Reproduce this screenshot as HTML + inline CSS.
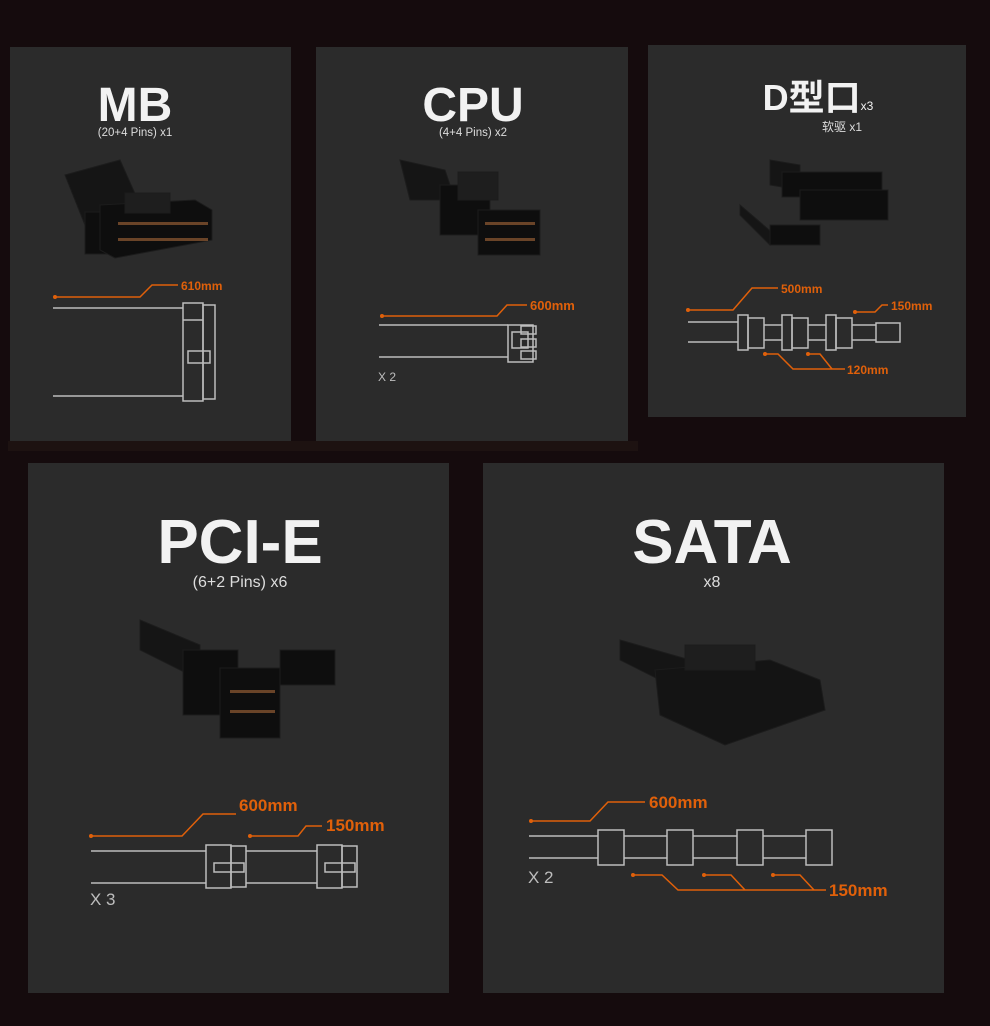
<!DOCTYPE html>
<html><head><meta charset="utf-8"><style>
html,body{margin:0;padding:0;background:#150b0d;}
svg{display:block}
text{font-family:"Liberation Sans","Noto Sans CJK SC",sans-serif}
</style></head><body>
<svg width="990" height="1026" viewBox="0 0 990 1026" xmlns="http://www.w3.org/2000/svg">
<rect width="990" height="1026" fill="#150b0d"/>
<rect x="8" y="441" width="630" height="10" fill="#1d1211"/>
<!-- panels -->
<rect x="10" y="47" width="281" height="394" fill="#2b2b2b"/>
<rect x="316" y="47" width="312" height="394" fill="#2b2b2b"/>
<rect x="648" y="45" width="318" height="372" fill="#2b2b2b"/>
<rect x="28" y="463" width="421" height="530" fill="#2b2b2b"/>
<rect x="483" y="463" width="461" height="530" fill="#2b2b2b"/>

<!-- titles -->
<g fill="#f2f2f2" text-anchor="middle">
<text x="135" y="121" font-size="48" font-weight="bold">MB</text>
<text x="135" y="136" font-size="11.5" fill="#ddd">(20+4 Pins) x1</text>
<text x="473" y="121" font-size="48" font-weight="bold">CPU</text>
<text x="473" y="136" font-size="11.5" fill="#ddd">(4+4 Pins) x2</text>
<text x="818" y="110" font-size="36" font-weight="bold">D型口<tspan font-size="12" font-weight="normal">x3</tspan></text>
<text x="842" y="131" font-size="12" fill="#ddd">软驱 x1</text>
<text x="240" y="563" font-size="62" font-weight="bold">PCI-E</text>
<text x="240" y="587" font-size="16" fill="#ddd">(6+2 Pins) x6</text>
<text x="712" y="563" font-size="62" font-weight="bold">SATA</text>
<text x="712" y="587" font-size="16" fill="#ddd">x8</text>
</g>

<!-- connector images (approximate) -->
<g fill="#0e0e0e" stroke="#1c1c1c">
<path d="M65 175 L120 160 L140 205 L85 225Z" fill="#151515"/>
<rect x="85" y="212" width="30" height="42"/>
<path d="M100 205 L195 200 L212 210 L212 240 L115 258 L100 250Z"/>
<rect x="125" y="193" width="45" height="20" fill="#1e1e1e"/>
<path d="M400 160 L445 170 L455 200 L410 200Z" fill="#151515"/>
<rect x="440" y="185" width="50" height="50"/>
<rect x="458" y="172" width="40" height="28" fill="#1e1e1e"/>
<rect x="478" y="210" width="62" height="45"/>
<path d="M770 160 L800 165 L800 190 L770 185Z" fill="#151515"/>
<rect x="782" y="172" width="100" height="25"/>
<rect x="800" y="190" width="88" height="30"/>
<path d="M740 205 L775 235 L770 245 L740 215Z" fill="#151515"/>
<rect x="770" y="225" width="50" height="20"/>
<path d="M140 620 L200 645 L200 680 L140 650Z" fill="#151515"/>
<rect x="183" y="650" width="55" height="65"/>
<rect x="220" y="668" width="60" height="70"/>
<rect x="280" y="650" width="55" height="35"/>
<path d="M620 640 L690 660 L680 690 L620 660Z" fill="#151515"/>
<path d="M655 670 L770 660 L820 680 L825 710 L725 745 L660 715Z" fill="#141414"/>
<rect x="685" y="645" width="70" height="25" fill="#1e1e1e"/>
</g>
<g fill="#a8693a">
<rect x="118" y="222" width="90" height="3" opacity="0.6"/>
<rect x="118" y="238" width="90" height="3" opacity="0.6"/>
<rect x="485" y="222" width="50" height="3" opacity="0.6"/>
<rect x="485" y="238" width="50" height="3" opacity="0.6"/>
<rect x="230" y="690" width="45" height="3" opacity="0.6"/>
<rect x="230" y="710" width="45" height="3" opacity="0.6"/>
</g>

<!-- line drawings -->
<g fill="none" stroke="#bdbdbd" stroke-width="1.5">
<line x1="53" y1="308" x2="183" y2="308"/>
<line x1="53" y1="396" x2="183" y2="396"/>
<rect x="183" y="303" width="20" height="98"/>
<line x1="183" y1="320" x2="203" y2="320"/>
<rect x="203" y="305" width="12" height="94"/>
<rect x="188" y="351" width="22" height="12"/>
<line x1="379" y1="325" x2="508" y2="325"/>
<line x1="379" y1="357" x2="508" y2="357"/>
<rect x="508" y="325" width="25" height="37"/>
<rect x="521" y="326" width="15" height="8"/>
<rect x="521" y="339" width="15" height="8"/>
<rect x="521" y="351" width="15" height="8"/>
<rect x="512" y="332" width="16" height="16"/>
<line x1="688" y1="322" x2="738" y2="322"/>
<line x1="688" y1="342" x2="738" y2="342"/>
<rect x="738" y="315" width="10" height="35"/>
<rect x="748" y="318" width="16" height="30"/>
<line x1="764" y1="325" x2="782" y2="325"/>
<line x1="764" y1="340" x2="782" y2="340"/>
<rect x="782" y="315" width="10" height="35"/>
<rect x="792" y="318" width="16" height="30"/>
<line x1="808" y1="325" x2="826" y2="325"/>
<line x1="808" y1="340" x2="826" y2="340"/>
<rect x="826" y="315" width="10" height="35"/>
<rect x="836" y="318" width="16" height="30"/>
<line x1="852" y1="325" x2="876" y2="325"/>
<line x1="852" y1="340" x2="876" y2="340"/>
<rect x="876" y="323" width="24" height="19"/>
<line x1="91" y1="851" x2="206" y2="851"/>
<line x1="91" y1="883" x2="206" y2="883"/>
<rect x="206" y="845" width="25" height="43"/>
<rect x="231" y="846" width="15" height="41"/>
<rect x="214" y="863" width="30" height="9"/>
<line x1="246" y1="851" x2="317" y2="851"/>
<line x1="246" y1="883" x2="317" y2="883"/>
<rect x="317" y="845" width="25" height="43"/>
<rect x="342" y="846" width="15" height="41"/>
<rect x="325" y="863" width="30" height="9"/>
<line x1="529" y1="836" x2="598" y2="836"/>
<line x1="529" y1="858" x2="598" y2="858"/>
<rect x="598" y="830" width="26" height="35"/>
<line x1="624" y1="836" x2="667" y2="836"/><line x1="624" y1="858" x2="667" y2="858"/>
<rect x="667" y="830" width="26" height="35"/>
<line x1="693" y1="836" x2="737" y2="836"/><line x1="693" y1="858" x2="737" y2="858"/>
<rect x="737" y="830" width="26" height="35"/>
<line x1="763" y1="836" x2="806" y2="836"/><line x1="763" y1="858" x2="806" y2="858"/>
<rect x="806" y="830" width="26" height="35"/>
</g>

<!-- orange dims -->
<g fill="none" stroke="#e0600a" stroke-width="1.5">
<polyline points="55,297 140,297 152,285 178,285"/>
<polyline points="382,316 497,316 507,305 527,305"/>
<polyline points="688,310 733,310 752,288 778,288"/>
<polyline points="855,312 875,312 882,305 888,305"/>
<polyline points="765,354 778,354 793,369 845,369"/>
<polyline points="808,354 820,354 832,369"/>
<polyline points="91,836 182,836 203,814 236,814"/>
<polyline points="250,836 298,836 306,826 322,826"/>
<polyline points="531,821 590,821 608,802 645,802"/>
<polyline points="633,875 662,875 678,890 826,890"/>
<polyline points="704,875 731,875 745,890"/>
<polyline points="773,875 800,875 814,890"/>
</g>
<g fill="#e0600a">
<circle cx="55" cy="297" r="2"/><circle cx="382" cy="316" r="2"/><circle cx="688" cy="310" r="2"/>
<circle cx="855" cy="312" r="2"/><circle cx="765" cy="354" r="2"/><circle cx="808" cy="354" r="2"/>
<circle cx="91" cy="836" r="2"/><circle cx="250" cy="836" r="2"/><circle cx="531" cy="821" r="2"/>
<circle cx="633" cy="875" r="2"/><circle cx="704" cy="875" r="2"/><circle cx="773" cy="875" r="2"/>
<g font-weight="bold">
<text x="181" y="290" font-size="12">610mm</text>
<text x="530" y="310" font-size="13">600mm</text>
<text x="781" y="293" font-size="12">500mm</text>
<text x="891" y="310" font-size="12">150mm</text>
<text x="847" y="374" font-size="12">120mm</text>
<text x="239" y="811" font-size="17">600mm</text>
<text x="326" y="831" font-size="17">150mm</text>
<text x="649" y="808" font-size="17">600mm</text>
<text x="829" y="896" font-size="17">150mm</text>
</g>
</g>
<g fill="#bdbdbd">
<text x="378" y="381" font-size="12">X 2</text>
<text x="90" y="905" font-size="17">X 3</text>
<text x="528" y="883" font-size="17">X 2</text>
</g>
</svg>
</body></html>
